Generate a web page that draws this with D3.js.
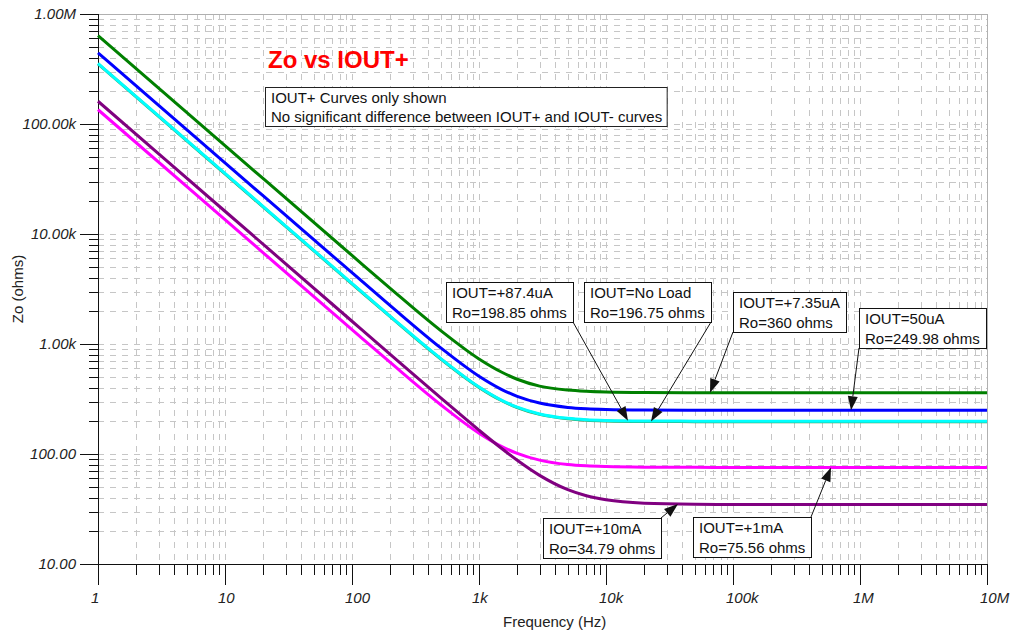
<!DOCTYPE html>
<html>
<head>
<meta charset="utf-8">
<script src="https://cdn.jsdelivr.net/npm/d3@7"></script>
<style>
  html, body { margin: 0; padding: 0; background: #fff; }
  svg { display: block; font-family: "Liberation Sans", Arial, Helvetica, sans-serif; }
</style>
</head>
<body>
<svg id="chart" width="1014" height="636"></svg>
<script>
// Output impedance vs frequency, one curve per IOUT+ load condition
const freqHz = [1, 10, 100, 200, 500, 1000, 1500, 2000, 3000, 5000, 7000, 10000, 20000, 50000, 100000, 1e6, 1e7];

const zoPlus7p35uA = [637000, 63700, 6380, 3205, 1324, 731.7, 556.7, 478, 414, 381, 371.3, 365.6, 361.4, 360.2, 360.1, 360, 360];
const zoPlus50uA   = [444000, 44400, 4447, 2234, 922.5, 509.5, 387.4, 334.3, 290.5, 265.3, 257.9, 253.9, 251.0, 250.1, 250.0, 249.98, 249.98];
const zoNoLoad     = [352000, 35200, 3525.5, 1771, 731, 403.3, 306.3, 264, 229.1, 209, 203.1, 199.9, 197.5, 196.9, 196.75, 196.75, 196.75];
const zoPlus87p4uA = [355000, 35500, 3555.6, 1786.1, 737.3, 406.9, 309.1, 266.5, 231.4, 211.1, 205.2, 202.0, 199.6, 199.0, 198.85, 198.85, 198.85];
const zoPlus1mA    = [135000, 13500, 1352, 679.2, 280.4, 154.7, 117.5, 101.3, 87.9, 80.2, 78.0, 76.8, 75.86, 75.6, 75.56, 75.56, 75.56];
const zoPlus10mA   = [161000, 16100, 1610, 805.8, 323.9, 164.7, 112.8, 87.7, 63.96, 47.4, 41.7, 38.3, 35.7, 34.94, 34.81, 34.79, 34.79];

const xTickValues = [1, 10, 100, 1e3, 1e4, 1e5, 1e6, 1e7];
const xTickLabels = ["1", "10", "100", "1k", "10k", "100k", "1M", "10M"];
const yTickValues = [10, 100, 1e3, 1e4, 1e5, 1e6];
const yTickLabels = ["10.00", "100.00", "1.00k", "10.00k", "100.00k", "1.00M"];

const series = [
  { key: "7.35uA", values: zoPlus7p35uA, color: "#008000" },
  { key: "50uA",   values: zoPlus50uA,   color: "#0000ff" },
  { key: "noload", values: zoNoLoad,     color: "#3c9a50" },
  { key: "87.4uA", values: zoPlus87p4uA, color: "#00ffff" },
  { key: "1mA",    values: zoPlus1mA,    color: "#ff00ff" },
  { key: "10mA",   values: zoPlus10mA,   color: "#800080" }
];

// Callouts: text, which curve they point at, and the frequency of the arrow tip
const callouts = [
  { lines: ["IOUT=+87.4uA", "Ro=198.85 ohms"], series: "87.4uA", tipHz: 14900 },
  { lines: ["IOUT=No Load", "Ro=196.75 ohms"], series: "noload", tipHz: 22600 },
  { lines: ["IOUT=+7.35uA", "Ro=360 ohms"],    series: "7.35uA", tipHz: 65900 },
  { lines: ["IOUT=50uA", "Ro=249.98 ohms"],    series: "50uA",   tipHz: 850000 },
  { lines: ["IOUT=+10mA", "Ro=34.79 ohms"],    series: "10mA",   tipHz: 36900 },
  { lines: ["IOUT=+1mA", "Ro=75.56 ohms"],     series: "1mA",    tipHz: 591000 }
];
// Box placement (top-left corner) and the corner the leader leaves from
const calloutLayout = [
  { x: 446, y: 282, from: "br" },
  { x: 584, y: 282, from: "br" },
  { x: 733, y: 292, from: "bl" },
  { x: 859, y: 308, from: "bl" },
  { x: 543, y: 518, from: "tr" },
  { x: 693, y: 517, from: "tr" }
];

const svg = d3.select("#chart");
const plotL = 98, plotR = 987, plotT = 14, plotB = 564;

const x = d3.scaleLog().domain([1, 1e7]).range([plotL, plotR]);
const y = d3.scaleLog().domain([10, 1e6]).range([plotB, plotT]);

// minor positions 2..9 within every decade
function minorTicks(lo, hi) {
  const out = [];
  for (let p = lo; p < hi; p++) for (let d = 2; d <= 9; d++) out.push(d * Math.pow(10, p));
  return out;
}
const xMinor = minorTicks(0, 7);
const yMinor = minorTicks(1, 6);
const px = v => Math.round(v) + 0.5;

// dashed grid
const grid = svg.append("g").attr("stroke", "#c6c6c6").attr("stroke-width", 1)
  .attr("stroke-dasharray", "6,6").attr("fill", "none");
grid.selectAll("line.v").data(xMinor.concat(xTickValues.slice(1, -1))).join("line")
  .attr("class", "v")
  .attr("x1", d => px(x(d))).attr("x2", d => px(x(d)))
  .attr("y1", plotT).attr("y2", plotB);
grid.selectAll("line.h").data(yMinor.concat(yTickValues.slice(1, -1))).join("line")
  .attr("class", "h")
  .attr("y1", d => px(y(d))).attr("y2", d => px(y(d)))
  .attr("x1", plotL).attr("x2", plotR);

// frame (top and right in gray)
svg.append("line").attr("x1", plotL).attr("x2", plotR).attr("y1", px(plotT)).attr("y2", px(plotT))
  .attr("stroke", "#b0b0b0");
svg.append("line").attr("x1", px(plotR)).attr("x2", px(plotR)).attr("y1", plotT).attr("y2", plotB)
  .attr("stroke", "#b0b0b0");

// axes
const axisColor = "#111";
const xAxis = svg.append("g").attr("stroke", axisColor).attr("stroke-width", 1);
xAxis.append("line").attr("x1", plotL).attr("x2", plotR).attr("y1", px(plotB)).attr("y2", px(plotB));
xAxis.selectAll("line.minor").data(xMinor).join("line").attr("class", "minor")
  .attr("x1", d => px(x(d))).attr("x2", d => px(x(d)))
  .attr("y1", plotB).attr("y2", plotB + 11);
xAxis.selectAll("line.major").data(xTickValues).join("line").attr("class", "major")
  .attr("x1", d => px(x(d))).attr("x2", d => px(x(d)))
  .attr("y1", plotB).attr("y2", plotB + 21);

const yAxis = svg.append("g").attr("stroke", axisColor).attr("stroke-width", 1);
yAxis.append("line").attr("x1", px(plotL)).attr("x2", px(plotL)).attr("y1", plotT).attr("y2", plotB);
yAxis.selectAll("line.minor").data(yMinor).join("line").attr("class", "minor")
  .attr("y1", d => px(y(d))).attr("y2", d => px(y(d)))
  .attr("x1", plotL - 9).attr("x2", plotL);
yAxis.selectAll("line.major").data(yTickValues).join("line").attr("class", "major")
  .attr("y1", d => px(y(d))).attr("y2", d => px(y(d)))
  .attr("x1", plotL - 18).attr("x2", plotL);

svg.append("g").selectAll("text").data(xTickValues).join("text")
  .attr("x", d => x(d) - 7).attr("y", 603)
  .attr("font-size", 15).attr("font-style", "italic").attr("fill", "#222")
  .text((d, i) => xTickLabels[i]);

svg.append("g").selectAll("text").data(yTickValues).join("text")
  .attr("x", 76).attr("y", d => y(d) + 5)
  .attr("text-anchor", "end")
  .attr("font-size", 15).attr("font-style", "italic").attr("fill", "#222")
  .text((d, i) => yTickLabels[i]);

svg.append("text").attr("x", 503).attr("y", 627).attr("font-size", 15).attr("fill", "#222")
  .text("Frequency (Hz)");
svg.append("text").attr("transform", `translate(23,${(plotT + plotB) / 2}) rotate(-90)`)
  .attr("text-anchor", "middle").attr("font-size", 15).attr("fill", "#222")
  .text("Zo (ohms)");

// curves
const line = d3.line().x(d => x(d[0])).y(d => y(d[1])).curve(d3.curveMonotoneX);
const curves = svg.append("g").attr("fill", "none").attr("stroke-width", 3)
  .attr("stroke-linejoin", "round");
series.forEach(s => {
  curves.append("path")
    .attr("d", line(freqHz.map((f, i) => [f, s.values[i]])))
    .attr("stroke", s.color);
});

// title and note
svg.append("text").attr("x", 268).attr("y", 68).attr("font-size", 24).attr("font-weight", "bold")
  .attr("fill", "#ff0000").text("Zo vs IOUT+");

const note = svg.append("g");
const noteLines = ["IOUT+ Curves only shown", "No significant difference between IOUT+ and IOUT- curves"];
const noteRect = note.append("rect").attr("fill", "#fff").attr("stroke", "#222").attr("stroke-width", 1);
const noteText = note.append("g").attr("font-size", 15).attr("fill", "#111");
noteLines.forEach((t, i) => noteText.append("text").attr("x", 271).attr("y", 103 + i * 19).text(t));
const nb = noteText.node().getBBox();
noteRect.attr("x", 265.5).attr("y", 87.5).attr("width", nb.x + nb.width + 5 - 265.5).attr("height", 39);

// callouts with leaders
const seriesByKey = Object.fromEntries(series.map(s => [s.key, s]));
function valueAt(s, f) {
  // curve value at frequency f, log-log between listed points
  const lf = Math.log10(f);
  for (let i = 1; i < freqHz.length; i++) {
    const a = Math.log10(freqHz[i - 1]), b = Math.log10(freqHz[i]);
    if (lf <= b) {
      const t = (lf - a) / (b - a);
      return Math.pow(10, Math.log10(s.values[i - 1]) * (1 - t) + Math.log10(s.values[i]) * t);
    }
  }
  return s.values[s.values.length - 1];
}

const ann = svg.append("g");
callouts.forEach((c, i) => {
  const L = calloutLayout[i];
  const g = ann.append("g");
  const rect = g.append("rect").attr("fill", "#fff").attr("stroke", "#111").attr("stroke-width", 1);
  const tg = g.append("g").attr("font-size", 15).attr("fill", "#111");
  c.lines.forEach((t, j) => tg.append("text").attr("x", L.x + 6).attr("y", L.y + 16 + j * 20).text(t));
  const bb = tg.node().getBBox();
  const w = Math.round(bb.width + 12), h = 40;
  rect.attr("x", L.x + 0.5).attr("y", L.y + 0.5).attr("width", w).attr("height", h);

  const sx = L.from.endsWith("r") ? L.x + w : L.x;
  const sy = L.from.startsWith("b") ? L.y + h : L.y;
  const s = seriesByKey[c.series];
  const tx = x(c.tipHz), ty = y(valueAt(s, c.tipHz));
  const ang = Math.atan2(ty - sy, tx - sx);
  const len = 14, hw = 5;
  const bx = tx - len * Math.cos(ang), by = ty - len * Math.sin(ang);
  ann.append("line").attr("x1", sx).attr("y1", sy).attr("x2", bx).attr("y2", by)
    .attr("stroke", "#111").attr("stroke-width", 1);
  ann.append("path")
    .attr("d", `M${tx},${ty}L${bx + hw * Math.sin(ang)},${by - hw * Math.cos(ang)}L${bx - hw * Math.sin(ang)},${by + hw * Math.cos(ang)}Z`)
    .attr("fill", "#111");
});
</script>
</body>
</html>
